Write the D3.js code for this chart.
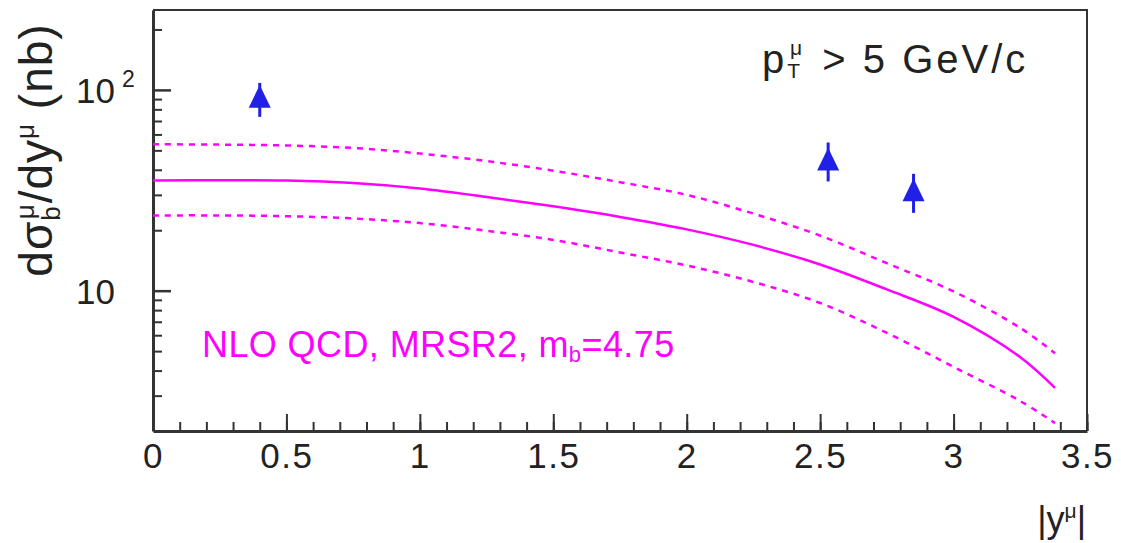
<!DOCTYPE html>
<html>
<head>
<meta charset="utf-8">
<script src="https://cdn.jsdelivr.net/npm/d3@7"></script>
<style>
  body { margin: 0; background: #fff; }
  text { font-family: "Liberation Sans", Arial, sans-serif; fill: #222; }
</style>
</head>
<body>
<svg id="chart"></svg>
<script>
// NLO QCD band (nb)
const rapidity   = [0, 0.25, 0.5, 0.75, 1.0, 1.25, 1.5, 1.75, 2.0, 2.25, 2.5, 2.75, 3.0, 3.25, 3.38];
const nloCentral = [35.4, 35.5, 35.35, 34.4, 32.3, 29.3, 26.3, 23.3, 20.2, 16.9, 13.5, 10.14, 7.40, 4.66, 3.28];
const nloUpper   = [53.6, 53.4, 52.85, 51.4, 48.2, 44.2, 39.6, 34.7, 30.0, 24.2, 18.8, 13.7, 9.91, 6.52, 4.88];
const nloLower   = [23.7, 23.7, 23.5, 22.9, 21.7, 19.9, 17.9, 15.5, 13.35, 11.05, 8.68, 6.16, 4.17, 2.82, 2.19];

// measured points
const dataY     = [0.40, 2.53, 2.85];
const dataSigma = [89.2, 43.4, 30.5];
const dataHigh  = [108.3, 54.7, 38.2];
const dataLow   = [73.4, 35.0, 24.4];

const xMajorTicks = [0, 0.5, 1, 1.5, 2, 2.5, 3, 3.5];
const xMinorTicks = d3.range(0, 3.55, 0.1);
const yMajorTicks = [10, 100];
const yMinorTicks = [3, 4, 5, 6, 7, 8, 9, 20, 30, 40, 50, 60, 70, 80, 90, 200];

const W = 1121, H = 543;
const margin = {top: 10, right: 34, bottom: 112, left: 153};
const width = W - margin.left - margin.right,
      height = H - margin.top - margin.bottom;

const magenta = "#ff00ff", blue = "#2020e6";

const svg = d3.select("#chart").attr("width", W).attr("height", H);
const g = svg.append("g").attr("transform", "translate(" + margin.left + "," + margin.top + ")");

const x = d3.scaleLinear().domain([0, 3.5]).range([0, width]);
const y = d3.scaleLog().domain([2, 250]).range([height, 0]);

// frame (top / right)
g.append("path")
  .attr("d", "M0,0H" + width + "V" + height)
  .attr("fill", "none").attr("stroke", "#333").attr("stroke-width", 2);

// x axis: minor then major
g.append("g")
  .attr("transform", "translate(0," + height + ")")
  .call(d3.axisBottom(x).tickValues(xMinorTicks).tickSize(-9).tickSizeOuter(0).tickFormat(""))
  .call(a => a.selectAll("line").attr("stroke", "#333").attr("stroke-width", 2))
  .call(a => a.select(".domain").attr("stroke", "#333").attr("stroke-width", 3));

const xa = g.append("g")
  .attr("transform", "translate(0," + height + ")")
  .call(d3.axisBottom(x).tickValues(xMajorTicks).tickSize(-17).tickSizeOuter(0).tickPadding(12)
    .tickFormat(d => d3.format("")(d)))
xa.select(".domain").remove();
xa.selectAll("line").attr("stroke", "#333").attr("stroke-width", 2);
xa.selectAll("text").style("font-size", "35px").style("letter-spacing", "1.5px").attr("fill", "#222");

// y axis
g.append("g")
  .call(d3.axisLeft(y).tickValues(yMinorTicks).tickSize(-9).tickSizeOuter(0).tickFormat(""))
  .call(a => a.selectAll("line").attr("stroke", "#333").attr("stroke-width", 2))
  .call(a => a.select(".domain").attr("stroke", "#333").attr("stroke-width", 3));

const ya = g.append("g")
  .call(d3.axisLeft(y).tickValues(yMajorTicks).tickSize(-18).tickSizeOuter(0).tickPadding(38)
    .tickFormat(() => "10"));
ya.select(".domain").remove();
ya.selectAll("line").attr("stroke", "#333").attr("stroke-width", 2.5);
ya.selectAll("text").attr("dy", "0.36em").style("font-size", "35px").attr("fill", "#222");
ya.selectAll(".tick").filter(d => d === 100).append("text")
  .attr("x", -31).attr("y", -3)
  .attr("text-anchor", "start")
  .attr("fill", "#222")
  .style("font-size", "23px")
  .text("2");

// NLO curves
const line = d3.line().x(d => x(d[0])).y(d => y(d[1])).curve(d3.curveCatmullRom.alpha(0.5));
const band = [
  {vals: nloUpper, dash: "6,6"},
  {vals: nloCentral, dash: null},
  {vals: nloLower, dash: "6,6"}
];
g.selectAll(".nlo").data(band).enter().append("path")
  .attr("class", "nlo")
  .attr("d", b => line(rapidity.map((r, i) => [r, b.vals[i]])))
  .attr("fill", "none")
  .attr("stroke", magenta)
  .attr("stroke-width", 2.5)
  .attr("stroke-dasharray", b => b.dash);

// data points
const points = dataY.map((r, i) => ({r: r, v: dataSigma[i], hi: dataHigh[i], lo: dataLow[i]}));
g.selectAll(".err").data(points).enter().append("line")
  .attr("class", "err")
  .attr("x1", d => x(d.r)).attr("x2", d => x(d.r))
  .attr("y1", d => y(d.hi)).attr("y2", d => y(d.lo))
  .attr("stroke", blue).attr("stroke-width", 3);

const tri = {
  draw(ctx, size) {
    const s = Math.sqrt(size);
    ctx.moveTo(0, -0.68 * s);
    ctx.lineTo(0.5 * s, 0.36 * s);
    ctx.lineTo(-0.5 * s, 0.36 * s);
    ctx.closePath();
  }
};
g.selectAll(".pt").data(points).enter().append("path")
  .attr("class", "pt")
  .attr("transform", d => "translate(" + x(d.r) + "," + y(d.v) + ")")
  .attr("d", d3.symbol().type(tri).size(22 * 22))
  .attr("fill", blue);

// labels
const ylab = svg.append("text")
  .attr("transform", "translate(52,150) rotate(-90)")
  .attr("text-anchor", "middle")
  .style("font-size", "46px")
  .style("letter-spacing", "1px");
ylab.append("tspan").text("d\u03c3");
ylab.append("tspan").attr("dy", 8).style("font-size", "26px").text("b");
ylab.append("tspan").attr("dx", -14).attr("dy", -26).style("font-size", "26px").text("\u03bc");
ylab.append("tspan").attr("dy", 18).text("/dy");
ylab.append("tspan").attr("dy", -18).style("font-size", "26px").text("\u03bc");
ylab.append("tspan").attr("dy", 18).text(" (nb)");

const ptlab = svg.append("text")
  .attr("x", 762).attr("y", 73)
  .style("font-size", "40px")
  .style("letter-spacing", "3px");
ptlab.append("tspan").text("p");
ptlab.append("tspan").attr("dy", 5).style("font-size", "21px").text("T");
ptlab.append("tspan").attr("dx", -13).attr("dy", -23).style("font-size", "21px").text("\u03bc");
ptlab.append("tspan").attr("dx", 3).attr("y", 73).text(" > 5 GeV/c");

const nlolab = svg.append("text")
  .attr("x", 202).attr("y", 357)
  .style("font-size", "36px")
  .style("letter-spacing", "0.4px")
  .style("fill", magenta);
nlolab.append("tspan").text("NLO QCD, MRSR2, m");
nlolab.append("tspan").attr("dy", 5).style("font-size", "22px").text("b");
nlolab.append("tspan").attr("y", 357).text("=4.75");

const xlab = svg.append("text")
  .attr("x", 1086).attr("y", 532)
  .attr("text-anchor", "end")
  .style("font-size", "36px");
xlab.append("tspan").text("|y");
xlab.append("tspan").attr("dy", -14).style("font-size", "21px").text("\u03bc");
xlab.append("tspan").attr("dy", 14).text("|");
</script>
</body>
</html>
